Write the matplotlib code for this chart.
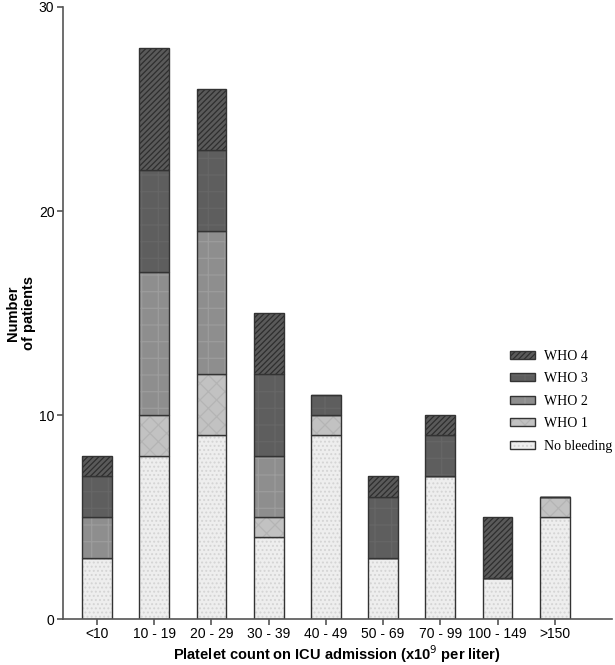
import matplotlib.pyplot as plt
from matplotlib.patches import Patch
import numpy as np

categories = ['<10', '10 - 19', '20 - 29', '30 - 39', '40 - 49', '50 - 69', '70 - 99', '100 - 149', '>150']
no_bleeding = [3, 8, 9, 4, 9, 3, 7, 2, 5]
who1 = [0, 2, 3, 1, 1, 0, 0, 0, 1]
who2 = [2, 7, 7, 3, 0, 0, 0, 0, 0]
who3 = [2, 5, 4, 4, 1, 3, 2, 0, 0]
who4 = [1, 6, 3, 3, 0, 1, 1, 3, 0]

# name, values, face, hatch, hatch colour
series = [('No bleeding', no_bleeding, '#eeeeee', '....', '#d4d4d4'),
          ('WHO 1', who1, '#c2c2c2', 'xx', '#b4b4b4'),
          ('WHO 2', who2, '#8e8e8e', '+', '#9c9c9c'),
          ('WHO 3', who3, '#5e5e5e', '+', '#666666'),
          ('WHO 4', who4, '#5a5a5a', '//////', '#2e2e2e')]

plt.rcParams['hatch.linewidth'] = 0.9
fig = plt.figure(figsize=(6.15, 6.65), dpi=100)
ax = fig.add_axes([0.102, 0.069, 0.893, 0.9205])

x = np.arange(len(categories))
bottom = np.zeros(len(categories))
handles = []
for name, vals, color, hatch, hcol in series:
    vals = np.array(vals, dtype=float)
    # hatch colour follows edgecolor, so draw fill+hatch and outline separately
    ax.bar(x, vals, 0.52, bottom=bottom, color=color, edgecolor=hcol,
           linewidth=0, hatch=hatch)
    ax.bar(x, vals, 0.52, bottom=bottom, fill=False, edgecolor='#333333',
           linewidth=1.0)
    handles.append((Patch(facecolor=color, edgecolor=hcol, hatch=hatch, linewidth=0),
                    Patch(fill=False, edgecolor='#333333', linewidth=1.0)))
    bottom += vals

ax.set_xlim(-0.6, 9.0)
ax.set_ylim(0, 30)
ax.set_yticks([0, 10, 20, 30])
ax.set_xticks(x)
ax.set_xticklabels(categories)
for s in ['top', 'right']:
    ax.spines[s].set_visible(False)
for s in ['left', 'bottom']:
    ax.spines[s].set_color('#555555')
    ax.spines[s].set_linewidth(1.2)
ax.tick_params(axis='both', labelsize=10, color='#555555', length=4, width=1.2, pad=2)
for lab in ax.get_xticklabels() + ax.get_yticklabels():
    lab.set_fontfamily('Liberation Sans')

ax.set_xlabel('Platelet count on ICU admission (x10$^{9}$ per liter)', fontsize=10.5,
              fontweight='bold', fontfamily='Liberation Sans', labelpad=1)
ax.set_ylabel('Number\nof patients', fontsize=10.5, fontweight='bold',
              fontfamily='Liberation Sans', labelpad=2)

leg = ax.legend(handles[::-1], [s[0] for s in series][::-1], loc='center left',
                bbox_to_anchor=(0.815, 0.356), frameon=False, borderpad=0, borderaxespad=0,
                prop={'family': 'Liberation Serif', 'size': 10},
                handlelength=1.75, handleheight=0.5, handletextpad=0.7, labelspacing=0.68)

fig.savefig('out.png', dpi=100)
